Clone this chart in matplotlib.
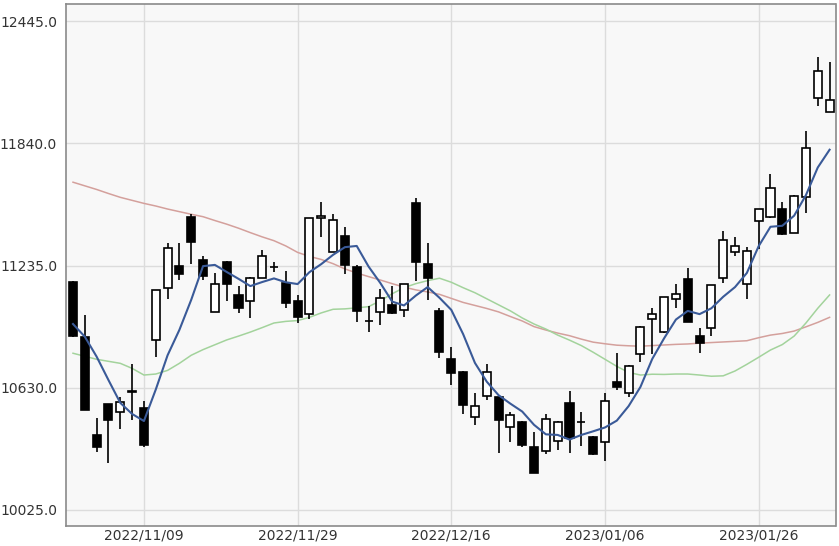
import matplotlib
matplotlib.use("Agg")
import matplotlib.pyplot as plt

# daily candles (index 0 = 2022/10/31)
opens = [11155, 10882, 10394, 10547, 10510, 10607, 10527, 10866, 11122, 11234,
         11474, 11262, 11006, 11254, 11089, 11059, 11175, 11227, 11147, 11059,
         10993, 11469, 11303, 11381, 11229, 10962, 11006, 11039, 11014, 11543,
         11242, 11011, 10771, 10707, 10485, 10588, 10581, 10436, 10460, 10333,
         10317, 10365, 10555, 10457, 10386, 10361, 10659, 10601, 10795, 10968,
         10904, 11067, 11168, 10885, 10924, 11172, 11300, 11142, 11457, 11474,
         11514, 11398, 11573, 12067, 11997]
highs = [11157, 10990, 10477, 10549, 10584, 10745, 10563, 11115, 11348, 11348,
         11490, 11282, 11196, 11256, 11135, 11177, 11312, 11254, 11208, 11089,
         11471, 11548, 11490, 11424, 11237, 11036, 11117, 11135, 11145, 11571,
         11348, 11023, 10831, 10710, 10604, 10747, 10583, 10510, 10462, 10411,
         10499, 10464, 10613, 10508, 10390, 10601, 10803, 10740, 10935, 11026,
         11080, 11142, 11224, 10927, 11140, 11406, 11375, 11328, 11516, 11689,
         11551, 11583, 11902, 12270, 12245]
lows = [10880, 10518, 10312, 10254, 10423, 10469, 10336, 10780, 11067, 11163,
        11241, 11163, 11004, 11059, 10998, 10976, 11173, 11204, 11023, 10948,
        10970, 11378, 11301, 11191, 10956, 10907, 10940, 10996, 10981, 11157,
        11064, 10775, 10642, 10499, 10444, 10568, 10307, 10361, 10336, 10205,
        10299, 10320, 10304, 10340, 10297, 10267, 10618, 10584, 10758, 10795,
        10902, 11023, 10954, 10803, 10887, 11147, 11282, 11069, 11316, 11472,
        11387, 11396, 11494, 12025, 11995]
closes = [10887, 10518, 10336, 10469, 10560, 10611, 10345, 11113, 11320, 11193,
          11353, 11183, 11142, 11142, 11023, 11175, 11284, 11229, 11048, 10981,
          11469, 11482, 11461, 11237, 11009, 10960, 11075, 10998, 11142, 11254,
          11171, 10808, 10702, 10541, 10538, 10708, 10469, 10494, 10345, 10207,
          10474, 10457, 10378, 10459, 10299, 10565, 10631, 10738, 10932, 10994,
          11077, 11092, 10956, 10852, 11138, 11361, 11332, 11308, 11514, 11618,
          11390, 11581, 11816, 12201, 12056]

# moving averages
ma_short = [10945, 10882, 10783, 10667, 10554, 10499, 10464, 10620, 10790, 10916,
            11065, 11232, 11238, 11203, 11169, 11133, 11153, 11171, 11152, 11143,
            11202, 11242, 11288, 11326, 11332, 11230, 11148, 11056, 11037, 11086,
            11128, 11075, 11015, 10895, 10752, 10659, 10592, 10550, 10511, 10445,
            10398, 10395, 10372, 10395, 10413, 10432, 10466, 10538, 10633, 10772,
            10874, 10967, 11010, 10994, 11023, 11080, 11128, 11198, 11331, 11427,
            11432, 11482, 11584, 11721, 11809]
ma_mid = [10800, 10785, 10770, 10760, 10750, 10725, 10692, 10697, 10715, 10750,
          10790, 10818, 10842, 10866, 10885, 10905, 10927, 10950, 10958, 10962,
          10978, 11000, 11018, 11020, 11025, 11031, 11060, 11095, 11125, 11145,
          11160, 11172, 11152, 11125, 11100, 11070, 11040, 11010, 10975, 10945,
          10920, 10890, 10865, 10838, 10805, 10770, 10735, 10705, 10692, 10696,
          10695, 10697, 10697, 10692, 10686, 10688, 10712, 10745, 10780, 10816,
          10843, 10885, 10950, 11023, 11089]
ma_long = [11648, 11630, 11612, 11592, 11573, 11558, 11543, 11530, 11515, 11502,
           11489, 11477, 11458, 11440, 11420, 11398, 11377, 11358, 11332, 11300,
           11280, 11265, 11244, 11218, 11198, 11180, 11163, 11145, 11128, 11114,
           11104, 11092, 11072, 11052, 11037, 11022, 11005, 10982, 10960, 10932,
           10915, 10900, 10887, 10870, 10855, 10847, 10840, 10837, 10835, 10838,
           10841, 10844, 10846, 10850, 10853, 10856, 10859, 10862, 10877, 10890,
           10898, 10910, 10931, 10953, 10978]

tick_pos = [6, 19, 32, 45, 58]
tick_labels = ["2022/11/09", "2022/11/29", "2022/12/16", "2023/01/06", "2023/01/26"]
y_ticks = [10025.0, 10630.0, 11235.0, 11840.0, 12445.0]

fig = plt.figure(figsize=(8.39, 5.46), dpi=100)
ax = fig.add_axes([65.5 / 839, 1 - 525.5 / 546, 770 / 839, 522 / 546])
ax.set_facecolor("#f8f8f8")

x = list(range(len(closes)))

ax.plot(x, ma_long, color="#d4a09c", lw=1.1, zorder=2)
ax.plot(x, ma_mid, color="#a3d39c", lw=1.1, zorder=2)

for i in x:
    o, h, l, c = opens[i], highs[i], lows[i], closes[i]
    ax.vlines(i, l, h, color="black", lw=1.2, zorder=3)
    up = c >= o
    bottom = min(o, c)
    height = max(abs(c - o), 1)
    ax.bar(i, height, bottom=bottom, width=0.68,
           facecolor="white" if up else "black",
           edgecolor="black", linewidth=1.2, zorder=4)

ax.plot(x, ma_short, color="#3a5a98", lw=1.5, zorder=5)

ax.set_xlim(-0.635, 64.5)
ax.set_ylim(9946, 12534)
ax.set_yticks(y_ticks)
ax.set_yticklabels([f"{v:.1f}" for v in y_ticks])
ax.set_xticks(tick_pos)
ax.set_xticklabels(tick_labels)
ax.tick_params(length=0, labelsize=10, colors="#333333")
ax.tick_params(axis="y", pad=6)
ax.tick_params(axis="x", pad=2)
ax.grid(True, color="#dcdcdc", lw=1)
ax.set_axisbelow(True)
for s in ax.spines.values():
    s.set_color("#8a8a8a")
    s.set_linewidth(1.2)

fig.savefig("out.png", dpi=100)
